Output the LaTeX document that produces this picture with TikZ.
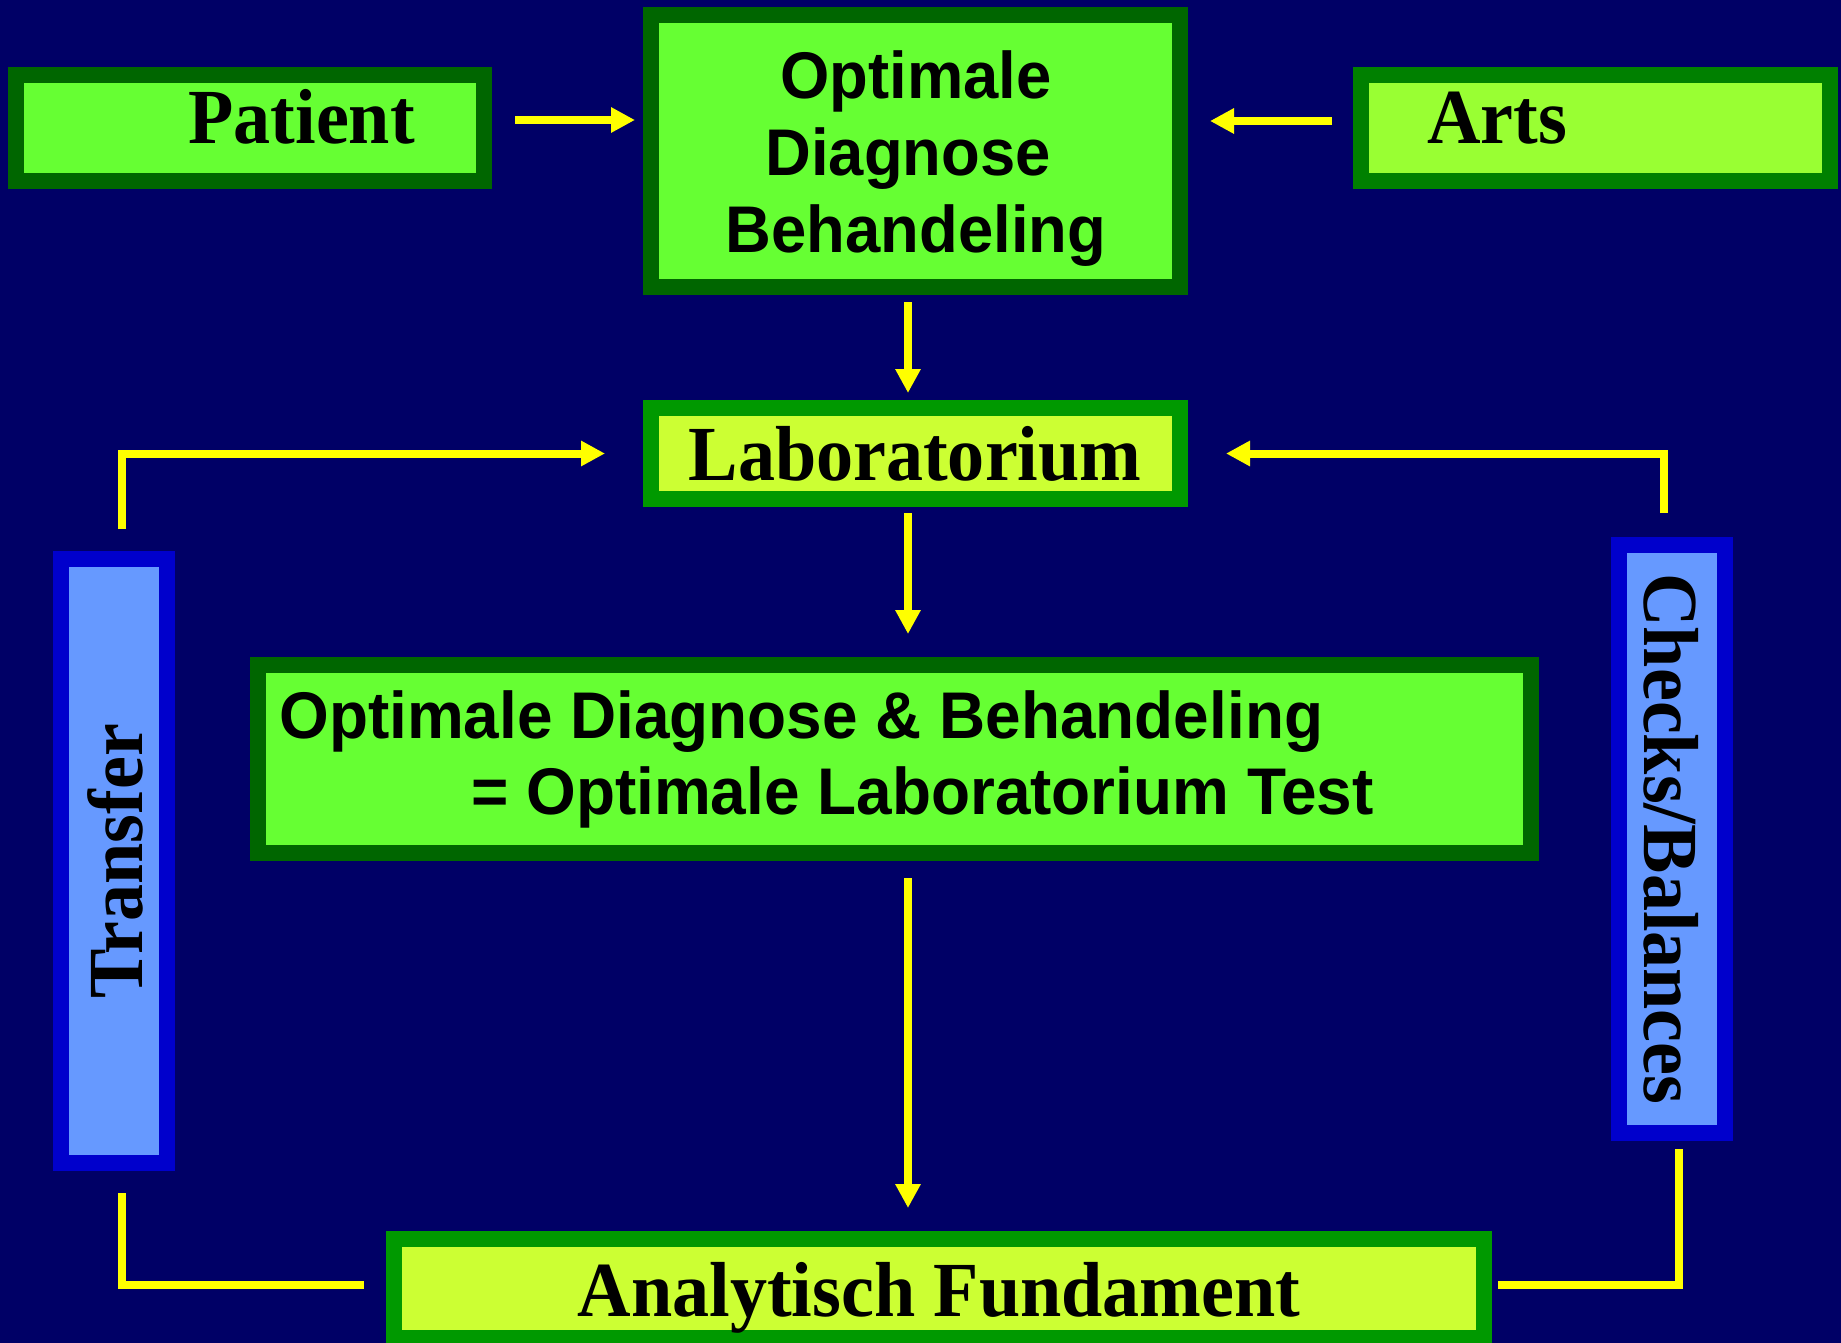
\documentclass[tikz,border=0pt]{standalone}
\usepackage{fontspec}
\setmainfont{Liberation Serif}
\newfontfamily\arialfont{Liberation Sans}
\usetikzlibrary{arrows.meta}
\definecolor{bgnavy}{HTML}{000066}
\definecolor{dgreen}{HTML}{006600}
\definecolor{mgreen}{HTML}{008000}
\definecolor{lgborder}{HTML}{009900}
\definecolor{lgreen}{HTML}{66FF33}
\definecolor{artsfill}{HTML}{99FF33}
\definecolor{limefill}{HTML}{CCFF33}
\definecolor{bborder}{HTML}{0000CC}
\definecolor{bfill}{HTML}{6699FF}
\definecolor{arrowyellow}{HTML}{FFFF00}
\newcommand\tsq[1]{\scalebox{0.95}[1]{#1}}
\newcommand\asq[1]{\scalebox{0.96}[1]{#1}}
\newcommand\asqw[1]{\scalebox{0.968}[1]{#1}}
\begin{document}
\begin{tikzpicture}[x=0.5pt,y=-0.5pt,
  box/.style={draw, line width=8pt, inner sep=0pt, outer sep=4pt},
  gbox/.style={box, draw=dgreen, fill=lgreen},
  abox/.style={box, draw=mgreen, fill=artsfill},
  lbox/.style={box, draw=lgborder, fill=limefill},
  bbox/.style={box, draw=bborder, fill=bfill},
  ttext/.style={font=\fontsize{39}{44}\selectfont\bfseries, inner sep=0pt, text=black},
  atext/.style={font=\arialfont\fontsize{33}{38}\selectfont\bfseries, inner sep=0pt, text=black},
  conn/.style={draw=arrowyellow, line width=4pt, line join=miter},
  arr/.style={conn, -{Triangle[length=12pt,width=12pt]}}
]
\fill[bgnavy] (0,0) rectangle (1841,1343);
\useasboundingbox (0,0) rectangle (1841,1343);

% boxes
\node[gbox, minimum width=234pt, minimum height=53pt] (Patient) at (250,128) {};
\node[gbox, minimum width=264.5pt, minimum height=136pt] (Opt) at (915.5,151) {};
\node[abox, minimum width=234.5pt, minimum height=53pt] (Arts) at (1595.5,128) {};
\node[lbox, minimum width=264.5pt, minimum height=45.5pt] (Lab) at (915.5,453.5) {};
\node[gbox, minimum width=636.5pt, minimum height=94pt] (Big) at (894.5,759) {};
\node[bbox, minimum width=53pt, minimum height=302pt] (Transfer) at (114,861) {};
\node[bbox, minimum width=53pt, minimum height=294pt] (Checks) at (1672,839) {};
\node[lbox, minimum width=545pt, minimum height=49.5pt] (Ana) at (939,1288.5) {};

% texts
\node[ttext, anchor=base west] (tPatient) at (188,143) {\tsq{Patient}};
\node[ttext, anchor=base west] (tArts) at (1427,143) {\tsq{Arts}};
\node[atext, anchor=base] (tOpt1) at (916,99) {\asq{Optimale}};
\node[atext, anchor=base] (tOpt2) at (908,176) {\asq{Diagnose}};
\node[atext, anchor=base] (tOpt3) at (916,252) {\asq{Behandeling}};
\node[ttext, anchor=base] (tLab) at (915,480) {\tsq{Laboratorium}};
\node[atext, anchor=base west] (tBig1) at (279,738) {\asqw{Optimale Diagnose \& Behandeling}};
\node[atext, anchor=base west] (tBig2) at (471,814) {\asqw{= Optimale Laboratorium Test}};
\node[ttext, anchor=base, rotate=90] (tTransfer) at (142,861) {\tsq{Transfer}};
\node[ttext, anchor=base, rotate=-90] (tChecks) at (1644,839) {\tsq{Checks/Balances}};
\node[ttext, anchor=base] (tAna) at (939,1316) {\tsq{Analytisch Fundament}};

% connectors
\coordinate (spine) at (908,0);
\draw[arr, shorten <=11.5pt, shorten >=4pt] ([yshift=4pt]Patient.east) -- ([yshift=4pt]Patient.east -| Opt.west);
\draw[arr, shorten <=10.5pt, shorten >=11pt] ([yshift=3.5pt]Arts.west) -- ([yshift=3.5pt]Arts.west -| Opt.east);
\draw[arr, shorten <=3.5pt, shorten >=3.5pt] (spine |- Opt.south) -- (spine |- Lab.north);
\draw[arr, shorten <=3pt, shorten >=11.5pt] (spine |- Lab.south) -- (spine |- Big.north);
\draw[arr, shorten <=8.5pt, shorten >=11.5pt] (spine |- Big.south) -- (spine |- Ana.north);
\draw[arr, shorten <=11pt, shorten >=19pt] ([xshift=4pt]Transfer.north) |- (Lab.west);
\draw[arr, shorten <=12pt, shorten >=19pt] ([xshift=-4pt]Checks.north) |- (Lab.east);
\draw[conn, shorten <=11pt, shorten >=11pt] ([xshift=4pt]Transfer.south) |- ([yshift=1.75pt]Ana.west);
\draw[conn, shorten <=4pt, shorten >=3pt] ([xshift=3.5pt]Checks.south) |- ([yshift=1.75pt]Ana.east);
\end{tikzpicture}
\end{document}
